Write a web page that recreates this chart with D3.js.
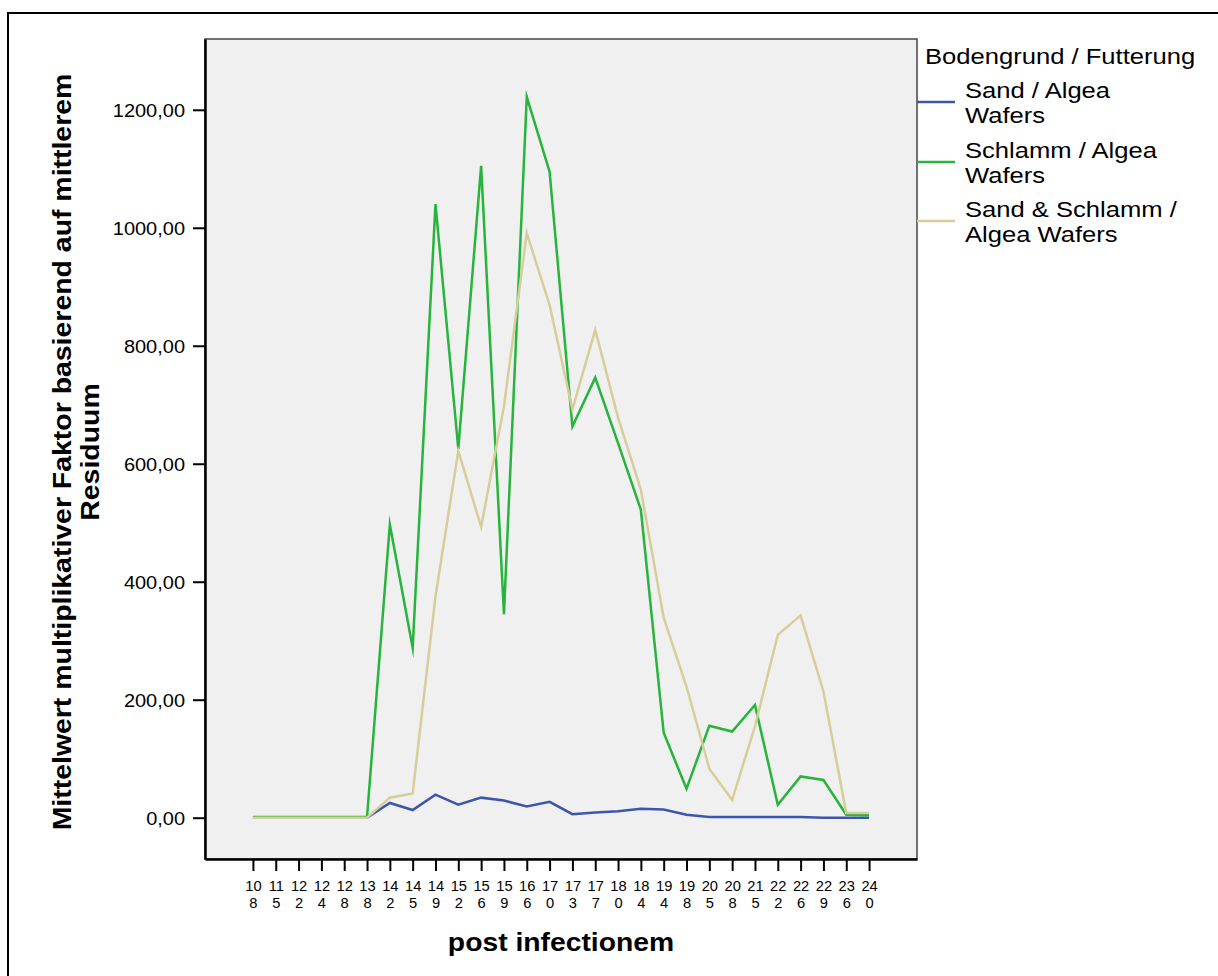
<!DOCTYPE html>
<html>
<head>
<meta charset="utf-8">
<script src="https://cdn.jsdelivr.net/npm/d3@7"></script>
<style>
  html, body { margin: 0; padding: 0; background: #fff; }
  svg { display: block; font-family: "Liberation Sans", Arial, sans-serif; }
</style>
</head>
<body>
<svg id="chart" width="1218" height="976"></svg>
<script>
// ---- data ----
const categories = ["108","115","122","124","128","138","142","145","149","152","156","159","166","170","173","177","180","184","194","198","205","208","215","222","226","229","236","240"];
const sandAlgea =     [0,0,0,0,0,0,25,13,39,22,34,29,19,27,6,9,11,15,14,5,1,1,1,1,1,0,0,0];
const schlammAlgea =  [1,1,1,1,1,1,497,288,1040,625,1105,345,1222,1095,663,746,635,522,144,49,156,146,191,22,70,64,5,4];
const sandSchlammAlgea = [0,0,0,0,0,0,34,41,375,622,493,697,991,869,692,827,678,556,339,222,83,30,155,310,343,214,8,8];
const yTicks = [0,200,400,600,800,1000,1200];
const seriesNames = [["Sand / Algea","Wafers"],["Schlamm / Algea","Wafers"],["Sand & Schlamm /","Algea Wafers"]];
const legendTitle = "Bodengrund / Futterung";
const yTitle = ["Mittelwert multiplikativer Faktor basierend auf mittlerem","Residuum"];
const xTitle = "post infectionem";

const colors = ["#3d56ad","#26b43c","#d6ce9a"];
const series = [sandAlgea, schlammAlgea, sandSchlammAlgea];

// ---- layout ----
const plot = {left: 205, top: 39, right: 917, bottom: 859};
const FONT = "Liberation Sans, Arial, sans-serif";

const svg = d3.select("#chart");

// outer frame
svg.append("rect").attr("x", 8).attr("y", 13).attr("width", 1230).attr("height", 1000)
  .attr("fill", "none").attr("stroke", "#000").attr("stroke-width", 2);

// plot background
svg.append("rect").attr("x", plot.left).attr("y", plot.top)
  .attr("width", plot.right - plot.left).attr("height", plot.bottom - plot.top)
  .attr("fill", "#f0f0f0").attr("stroke", "#444").attr("stroke-width", 1.5);

const x = d3.scalePoint().domain(categories).range([plot.left, plot.right]).padding(2.1);
const y = d3.scaleLinear().domain([-70, 1320]).range([plot.bottom, plot.top]);

// y axis
const fmt = v => d3.format(".2f")(v).replace(".", ",");
const ySX = 1.08;
const yAxis = svg.append("g").attr("transform", `translate(${plot.left},0)`)
  .call(d3.axisLeft(y).tickValues(yTicks).tickFormat(fmt).tickSize(12).tickSizeOuter(0));
yAxis.select(".domain").attr("stroke", "#000").attr("stroke-width", 2.5);
yAxis.selectAll(".tick line").attr("stroke", "#000").attr("stroke-width", 2);
yAxis.selectAll(".tick text")
  .attr("font-family", FONT)
  .attr("font-size", 18.5).attr("fill", "#000")
  .attr("x", -20 / ySX).attr("dy", "0.35em")
  .attr("transform", `scale(${ySX},1)`);

// x axis
const xAxis = svg.append("g").attr("transform", `translate(0,${plot.bottom})`)
  .call(d3.axisBottom(x).tickSize(12).tickSizeOuter(0));
xAxis.select(".domain").attr("stroke", "#000").attr("stroke-width", 2.5);
xAxis.selectAll(".tick line").attr("stroke", "#000").attr("stroke-width", 2);
xAxis.selectAll(".tick text").each(function(d) {
  const t = d3.select(this);
  t.text(null).attr("y", null).attr("dy", null)
    .attr("font-family", FONT)
    .attr("font-size", 14).attr("fill", "#000")
    .attr("transform", `scale(1.05,1)`);
  t.append("tspan").attr("x", 0).attr("y", 32).text(d.slice(0, -1));
  t.append("tspan").attr("x", 0).attr("y", 49).text(d.slice(-1));
});

// lines
const line = d3.line().x((d, i) => x(categories[i])).y(d => y(d));
series.forEach((s, k) => {
  svg.append("path").datum(s).attr("d", line)
    .attr("fill", "none").attr("stroke", colors[k]).attr("stroke-width", 2.5)
    .attr("stroke-linejoin", "miter").attr("stroke-miterlimit", 10);
});

// stretched text helper
function stretchText(txt, tx, ty, opts) {
  return svg.append("text")
    .attr("transform", `translate(${tx},${ty})` + (opts.rotate ? " rotate(-90)" : "") + ` scale(${opts.sx},1)`)
    .attr("font-family", FONT)
    .attr("font-size", opts.size).attr("font-weight", opts.bold ? "bold" : "normal")
    .attr("text-anchor", opts.anchor || "start").attr("fill", "#000")
    .text(txt);
}

// axis titles
const cx = (plot.left + plot.right) / 2;
const cy = (plot.top + plot.bottom) / 2;
stretchText(xTitle, cx, 951, {size: 25.5, sx: 1.11, bold: true, anchor: "middle"});
stretchText(yTitle[0], 71, cy + 3, {size: 25.5, sx: 1.115, bold: true, anchor: "middle", rotate: true});
stretchText(yTitle[1], 99, cy + 3, {size: 25.5, sx: 1.115, bold: true, anchor: "middle", rotate: true});

// legend
const legSize = 21.5, legSX = 1.19;
stretchText(legendTitle, 925, 64, {size: legSize, sx: legSX});
const legY = [102, 162, 221];
seriesNames.forEach((nm, k) => {
  svg.append("line").attr("x1", plot.right).attr("x2", 955)
    .attr("y1", legY[k]).attr("y2", legY[k])
    .attr("stroke", colors[k]).attr("stroke-width", 2.5);
  stretchText(nm[0], 965, legY[k] - 4, {size: legSize, sx: legSX});
  stretchText(nm[1], 965, legY[k] + 21, {size: legSize, sx: legSX});
});
</script>
</body>
</html>
